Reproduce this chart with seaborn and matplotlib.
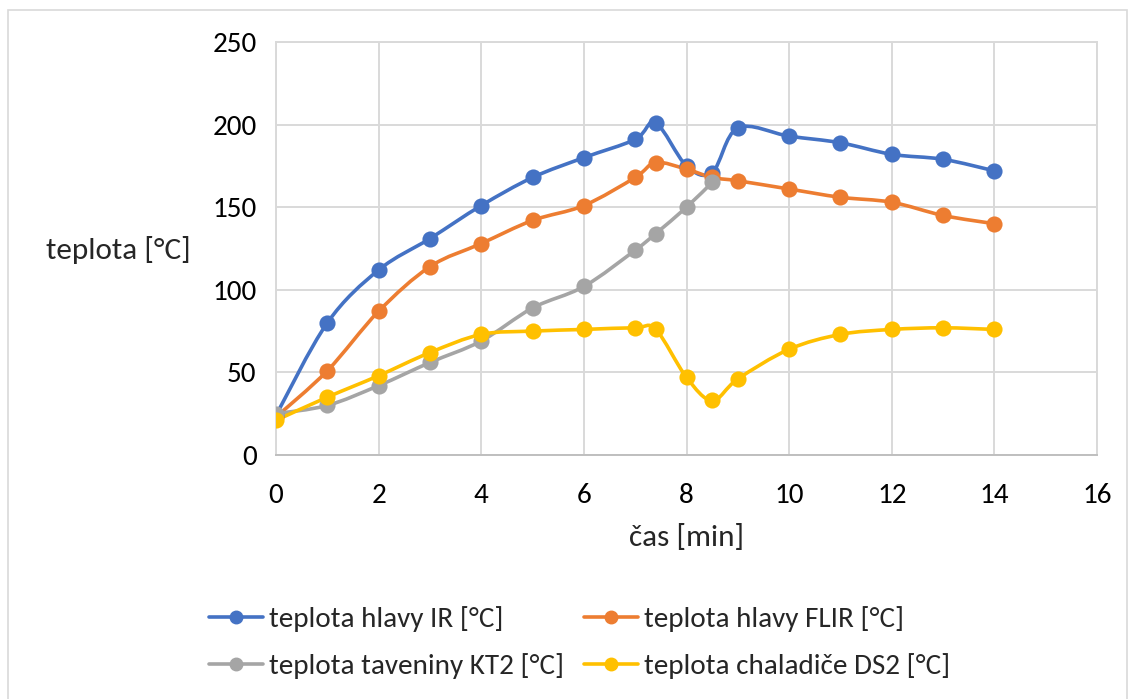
import matplotlib
matplotlib.use("Agg")
import matplotlib.pyplot as plt
import numpy as np
import pandas as pd
import seaborn as sns
from matplotlib.lines import Line2D
from matplotlib.patches import PathPatch, Rectangle
from matplotlib.path import Path

# Data
cas = [0, 1, 2, 3, 4, 5, 6, 7, 7.4, 8, 8.5, 9, 10, 11, 12, 13, 14]
cas_kt2 = [0, 1, 2, 3, 4, 5, 6, 7, 7.4, 8, 8.5]

hlava_ir = [24, 80, 112, 131, 151, 168, 180, 191, 201, 175, 171, 198, 193, 189, 182, 179, 172]
hlava_flir = [23, 51, 87, 114, 128, 142, 151, 168, 177, 173, 168, 166, 161, 156, 153, 145, 140]
tavenina_kt2 = [25, 30, 42, 56, 69, 89, 102, 124, 134, 150, 165]
chladic_ds2 = [21, 35, 48, 62, 73, 75, 76, 77, 76, 47, 33, 46, 64, 73, 76, 77, 76]

labels = [
    "teplota hlavy IR [°C]",
    "teplota hlavy FLIR [°C]",
    "teplota taveniny KT2 [°C]",
    "teplota chaladiče DS2 [°C]",
]
colors = ["#4472C4", "#ED7D31", "#A5A5A5", "#FFC000"]
x_ticks = list(range(0, 17, 2))
y_ticks = list(range(0, 251, 50))

series = [
    (cas, hlava_ir),
    (cas, hlava_flir),
    (cas_kt2, tavenina_kt2),
    (cas, chladic_ds2),
]

sns.set_theme(style="white")
plt.rcParams["font.family"] = ["Carlito", "Lato", "DejaVu Sans"]

fig = plt.figure(figsize=(11.31, 6.99), dpi=100)
ax = fig.add_axes([276 / 1131, 1 - 455 / 699, (1097 - 276) / 1131, (455 - 42) / 699])


def smooth_path(xs, ys):
    # Excel-like smoothed line: cubic Bezier through the points
    pts = np.column_stack([xs, ys]).astype(float)
    n = len(pts)
    verts = [pts[0]]
    codes = [Path.MOVETO]
    for i in range(n - 1):
        p0 = pts[max(i - 1, 0)]
        p1 = pts[i]
        p2 = pts[i + 1]
        p3 = pts[min(i + 2, n - 1)]
        c1 = p1 + (p2 - p0) / 6
        c2 = p2 - (p3 - p1) / 6
        verts += [c1, c2, p2]
        codes += [Path.CURVE4] * 3
    return Path(verts, codes)


handles = {}
for (xs, ys), label, color in zip(series, labels, colors):
    ax.add_patch(PathPatch(smooth_path(xs, ys), facecolor="none", edgecolor=color,
                           linewidth=2.6, capstyle="round", joinstyle="round", zorder=3))
    df = pd.DataFrame({"x": xs, "y": ys})
    sns.scatterplot(data=df, x="x", y="y", ax=ax, color=color, s=135,
                    edgecolor=color, linewidth=0, zorder=4)
    handles[label] = Line2D([0], [0], color=color, linewidth=2.6, marker="o",
                            markersize=9, label=label)

ax.set_xlim(0, 16)
ax.set_ylim(0, 250)
ax.set_xticks(x_ticks)
ax.set_yticks(y_ticks)
ax.tick_params(axis="both", length=0, labelsize=21, colors="#000000")
ax.tick_params(axis="x", pad=20)
ax.tick_params(axis="y", pad=14)
ax.grid(True, color="#D9D9D9", linewidth=1.4)
for side in ["top", "right", "left"]:
    ax.spines[side].set_color("#D9D9D9")
    ax.spines[side].set_linewidth(1.4)
ax.spines["bottom"].set_color("#BFBFBF")
ax.spines["bottom"].set_linewidth(1.4)
ax.set_axisbelow(True)

ax.set_xlabel("čas [min]", fontsize=22.5, labelpad=12)
ax.set_ylabel("")
fig.text(118 / 1131, 1 - 250 / 699, "teplota [°C]", fontsize=22.5, ha="center", va="center")

# legend is filled column by column, so order gives rows IR/FLIR, KT2/DS2
order = [labels[0], labels[2], labels[1], labels[3]]
fig.legend(handles=[handles[k] for k in order], ncol=2, loc="upper left",
           bbox_to_anchor=(209 / 1131, 1 - 606 / 699), borderpad=0, borderaxespad=0,
           frameon=False, fontsize=21, handlelength=1.85, handletextpad=0.2,
           columnspacing=0.7, labelspacing=0.72)

fig.patches.append(Rectangle((8 / 1131, -0.02), (1127 - 8) / 1131, 1.02 - 10 / 699,
                             transform=fig.transFigure, fill=False,
                             edgecolor="#D9D9D9", linewidth=1.2))

fig.savefig("out.png", dpi=100)
